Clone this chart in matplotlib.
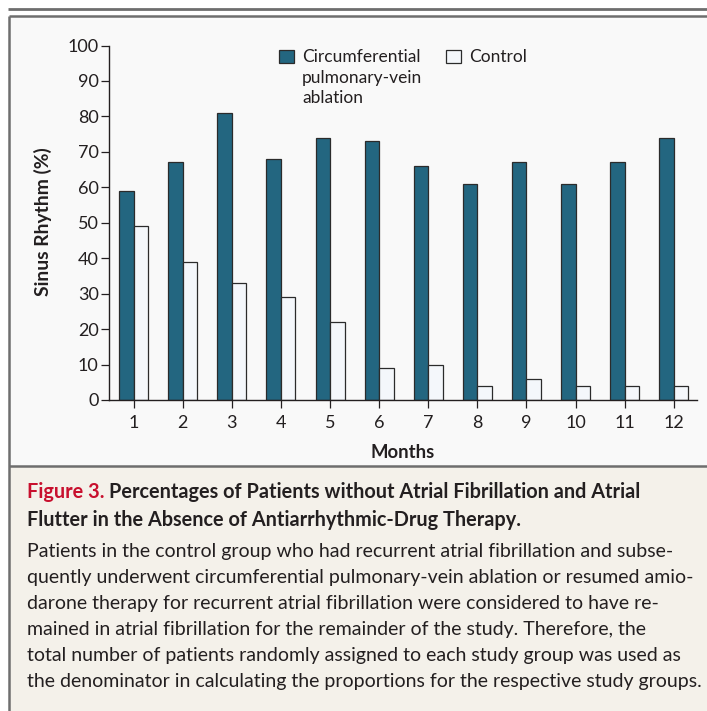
import matplotlib
matplotlib.use('Agg')
import matplotlib.pyplot as plt
from matplotlib.patches import Rectangle
from matplotlib.lines import Line2D
import numpy as np

# data
months = list(range(1, 13))
ablation = [59, 67, 81, 68, 74, 73, 66, 61, 67, 61, 67, 74]
control = [49, 39, 33, 29, 22, 9, 10, 4, 6, 4, 4, 4]
y_ticks = list(range(0, 101, 10))
legend_labels = ['Circumferential\npulmonary-vein\nablation', 'Control']
x_label = 'Months'
y_label = 'Sinus Rhythm (%)'
title_tag = 'Figure 3.'
title_lines = ['Percentages of Patients without Atrial Fibrillation and Atrial',
               'Flutter in the Absence of Antiarrhythmic-Drug Therapy.']
body_lines = [
    'Patients in the control group who had recurrent atrial fibrillation and subse-',
    'quently underwent circumferential pulmonary-vein ablation or resumed amio-',
    'darone therapy for recurrent atrial fibrillation were considered to have re-',
    'mained in atrial fibrillation for the remainder of the study. Therefore, the',
    'total number of patients randomly assigned to each study group was used as',
    'the denominator in calculating the proportions for the respective study groups.',
]

dark = '#236680'
light = '#f4f7fb'
edge = '#2b2b2b'
frame = '#6e6e6e'
red = '#c8102e'
ink = '#231f20'

plt.rcParams['font.family'] = ['Lato', 'DejaVu Sans']

W, H = 707, 711
fig = plt.figure(figsize=(W / 100, H / 100), dpi=100)
fig.patch.set_facecolor('white')


def fx(x):
    return x / W


def fy(y):
    return 1 - y / H


# background panels
fig.add_artist(Rectangle((fx(8.7), fy(720)), fx(720), (720 - 466) / H,
                         transform=fig.transFigure, facecolor='#f4f1ea',
                         edgecolor='none', zorder=0))
fig.add_artist(Rectangle((fx(8.7), fy(466)), fx(720), (466 - 16) / H,
                         transform=fig.transFigure, facecolor='#f9f9f9',
                         edgecolor='none', zorder=0))
for xs, ys, lw in [([8, 707], [8.7, 8.7], 2.0),
                   ([8.7, 8.7], [16.2, 711], 1.8),
                   ([8.7, 707], [16.2, 16.2], 1.8),
                   ([8.7, 707], [466.3, 466.3], 1.8)]:
    fig.add_artist(Line2D([fx(v) for v in xs], [fy(v) for v in ys],
                          transform=fig.transFigure, color=frame, lw=lw,
                          solid_capstyle='butt', zorder=1))

ax = fig.add_axes([fx(109), fy(400), fx(697) - fx(109), (400 - 45.5) / H])
ax.patch.set_alpha(0)
w = 0.295
x = np.array(months)
ax.bar(x - w / 2, ablation, w, color=dark, edgecolor=edge, linewidth=0.9, zorder=2)
ax.bar(x + w / 2, control, w, color=light, edgecolor=edge, linewidth=0.9, zorder=2)
ax.set_xlim(0.497, 12.475)
ax.set_ylim(0, 100)
ax.set_xticks(months)
ax.set_yticks(y_ticks)
for s in ['top', 'right']:
    ax.spines[s].set_visible(False)
for s in ['left', 'bottom']:
    ax.spines[s].set_color(ink)
    ax.spines[s].set_linewidth(1.0)
    ax.spines[s].set_zorder(3)
ax.tick_params(axis='y', direction='out', length=6, width=0.9, pad=1.5,
               labelsize=13, colors=ink)
ax.tick_params(axis='x', direction='out', length=6, width=0.9, pad=5,
               labelsize=13, colors=ink)

fig.canvas.draw()
r = fig.canvas.get_renderer()


def fit(t, target, vertical=False):
    bb = t.get_window_extent(r)
    size = bb.height if vertical else bb.width
    t.set_fontsize(t.get_fontsize() * target / size)
    return t.get_fontsize()


t = fig.text(fx(43), fy(222), y_label, rotation=90, ha='center', va='center',
             fontsize=12.5, fontweight='bold', color=ink)
fit(t, 149, vertical=True)
t = fig.text(fx(403), fy(453), x_label, ha='center', va='center',
             fontsize=12.5, fontweight='bold', color=ink)
fit(t, 64)

# legend
for (x0, x1, tx), lab, col in zip([(279, 294, 302), (446, 461, 469)],
                                  legend_labels, [dark, light]):
    fig.add_artist(Rectangle((fx(x0), fy(63)), fx(x1) - fx(x0), 13 / H,
                             transform=fig.transFigure, facecolor=col,
                             edgecolor=edge, linewidth=0.9, zorder=3))
    for i, line in enumerate(lab.split('\n')):
        fig.text(fx(tx), fy(56.7 + i * 20.8), line, ha='left', va='center',
                 fontsize=12.5, color=ink)

# caption
probe = fig.text(0, 0, title_tag + ' ' + title_lines[0], fontweight='bold',
                 fontsize=14)
tsize = fit(probe, 616)
full_w = probe.get_window_extent(r).width
probe.remove()
fig.text(fx(27), fy(492.5), title_tag, ha='left', va='center', color=red,
         fontsize=tsize, fontweight='bold')
fig.text(fx(27 + full_w), fy(492.5), title_lines[0], ha='right', va='center',
         color=ink, fontsize=tsize, fontweight='bold')
fig.text(fx(27), fy(519.5), title_lines[1], ha='left', va='center',
         color=ink, fontsize=tsize, fontweight='bold')

probe = fig.text(0, 0, body_lines[-1], fontsize=14)
bsize = fit(probe, 679)
probe.remove()
for i, line in enumerate(body_lines):
    fig.text(fx(27), fy(551.5 + i * 25.9), line, ha='left', va='center',
             color=ink, fontsize=bsize)

fig.savefig('out.png', dpi=100)
